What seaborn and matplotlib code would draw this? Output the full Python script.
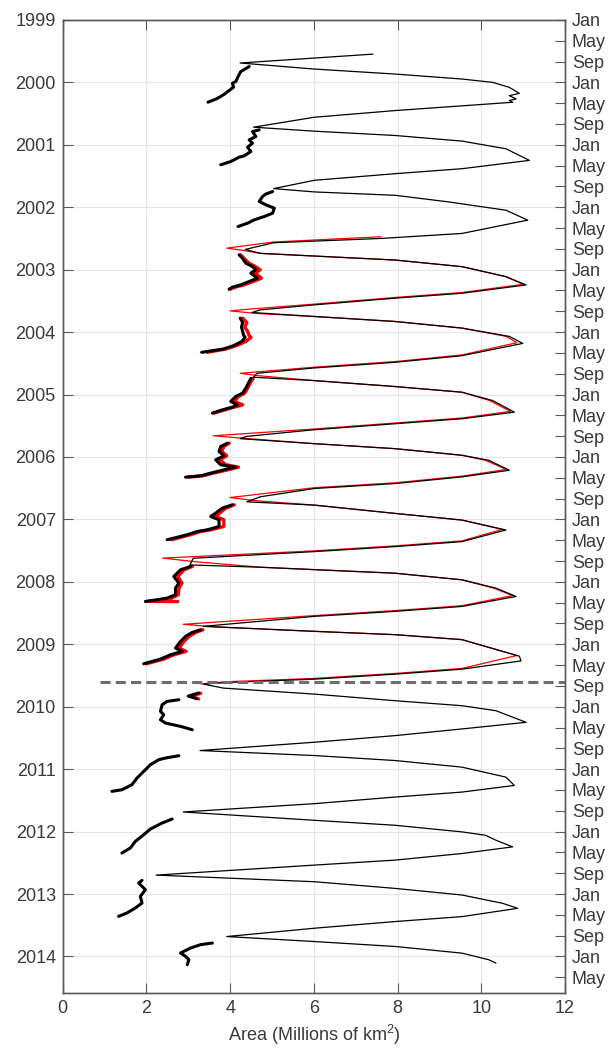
import matplotlib
matplotlib.use("Agg")
import matplotlib.pyplot as plt
import seaborn as sns
import pandas as pd

# ---------------- data ----------------
total_year = [1999.548, 1999.69, 1999.787, 1999.867, 1999.947, 2000.0, 2000.08, 2000.176, 2000.213, 2000.266, 2000.29, 2000.319, 2000.452, 2000.559, 2000.718,
              2000.782, 2000.851, 2000.941, 2001.064, 2001.25, 2001.383, 2001.463, 2001.569, 2001.702,
              2001.755, 2001.809, 2001.915, 2002.048, 2002.207, 2002.42, 2002.5, 2002.569, 2002.676,
              2002.739, 2002.846, 2002.952, 2003.112, 2003.245, 2003.378, 2003.457, 2003.564, 2003.644, 2003.686,
              2003.75, 2003.83, 2003.936, 2004.069, 2004.181, 2004.378, 2004.484, 2004.574, 2004.66, 2004.723,
              2004.777, 2004.872, 2004.963, 2005.096, 2005.282, 2005.388, 2005.468, 2005.564, 2005.67, 2005.707,
              2005.787, 2005.867, 2005.973, 2006.053, 2006.213, 2006.319, 2006.426, 2006.505, 2006.638, 2006.718,
              2006.771, 2006.904, 2007.011, 2007.17, 2007.356, 2007.436, 2007.516, 2007.622, 2007.729,
              2007.766, 2007.862, 2007.968, 2008.101, 2008.234, 2008.394, 2008.473, 2008.553, 2008.713,
              2008.793, 2008.846, 2008.926, 2009.191, 2009.266, 2009.399, 2009.479, 2009.559, 2009.612, 2009.638,
              2009.702, 2009.798, 2009.904, 2009.984, 2010.064, 2010.25, 2010.356, 2010.463, 2010.569, 2010.702,
              2010.782, 2010.862, 2010.968, 2011.128, 2011.261, 2011.367, 2011.447, 2011.553, 2011.686,
              2011.819, 2011.899, 2012.005, 2012.059, 2012.138, 2012.245, 2012.351, 2012.457, 2012.537, 2012.697,
              2012.803, 2012.91, 2013.016, 2013.149, 2013.229, 2013.362, 2013.441, 2013.548, 2013.681,
              2013.761, 2013.84, 2013.947, 2014.053, 2014.106]
total_area = [7.41, 4.24, 6.01, 7.94, 9.54, 10.27, 10.67, 10.91, 10.67, 10.83, 10.67, 10.75, 7.94, 6.01, 4.56,
              6.01, 7.94, 9.54, 10.59, 11.15, 9.54, 7.94, 6.01, 5.04,
              6.01, 7.94, 9.22, 10.59, 11.11, 9.54, 7.61, 5.04, 4.36,
              4.72, 7.94, 9.54, 10.59, 11.07, 9.54, 7.94, 6.01, 4.72, 4.52,
              6.01, 7.94, 9.54, 10.67, 10.99, 9.54, 7.94, 6.01, 4.64, 4.56,
              6.01, 7.94, 9.54, 10.27, 10.79, 9.54, 7.94, 6.01, 4.4, 4.24,
              6.01, 7.94, 9.54, 10.18, 10.67, 9.54, 7.94, 6.01, 4.72, 4.4,
              6.01, 7.94, 9.54, 10.59, 9.54, 7.94, 6.01, 3.12, 3.04,
              4.72, 7.94, 9.54, 10.35, 10.83, 9.54, 7.94, 6.01, 3.36,
              6.01, 7.94, 9.54, 10.91, 10.95, 9.54, 7.94, 6.01, 3.92, 3.36,
              3.84, 6.01, 7.94, 9.54, 10.35, 11.07, 9.54, 7.94, 6.01, 3.28,
              6.01, 7.94, 9.54, 10.59, 10.79, 9.54, 7.94, 6.01, 2.88,
              6.01, 7.94, 9.54, 10.1, 10.35, 10.75, 9.54, 7.94, 6.01, 2.23,
              6.01, 7.94, 9.54, 10.51, 10.87, 9.54, 7.94, 6.01, 3.92,
              6.01, 7.94, 9.54, 10.18, 10.35]

red_total_year = [2002.473, 2002.557, 2002.655, 2002.69, 2002.739, 2002.846, 2002.952, 2003.112, 2003.235,
                  2003.366, 2003.445, 2003.552, 2003.63, 2003.66, 2003.70, 2003.75, 2003.83, 2003.936, 2004.069, 2004.17,
                  2004.366, 2004.472, 2004.562, 2004.66, 2004.70, 2004.777, 2004.872, 2004.963, 2005.096, 2005.27,
                  2005.376, 2005.456, 2005.552, 2005.66, 2005.70, 2005.787, 2005.867, 2005.973, 2006.053, 2006.2,
                  2006.307, 2006.414, 2006.493, 2006.65, 2006.70, 2006.771, 2006.904, 2007.011, 2007.16,
                  2007.344, 2007.424, 2007.504, 2007.62, 2007.68, 2007.766, 2007.862, 2007.968, 2008.101, 2008.22,
                  2008.382, 2008.461, 2008.541, 2008.68, 2008.72, 2008.793, 2008.846, 2008.926, 2009.18,
                  2009.387, 2009.467, 2009.547, 2009.60, 2009.635]
red_total_area = [7.61, 5.04, 3.92, 4.3, 4.72, 7.94, 9.54, 10.59, 11.0,
                  9.54, 7.94, 6.01, 4.5, 4.0, 4.6, 6.01, 7.94, 9.54, 10.6, 10.85,
                  9.54, 7.94, 6.01, 4.24, 4.7, 6.01, 7.94, 9.54, 10.2, 10.7,
                  9.54, 7.94, 6.01, 3.6, 4.3, 6.01, 7.94, 9.54, 10.1, 10.6,
                  9.54, 7.94, 6.01, 4.0, 4.6, 6.01, 7.94, 9.54, 10.5,
                  9.54, 7.94, 6.01, 2.39, 3.2, 4.72, 7.94, 9.54, 10.3, 10.75,
                  9.54, 7.94, 6.01, 2.88, 3.6, 6.01, 7.94, 9.54, 10.85,
                  9.54, 7.94, 6.01, 3.92, 3.3]

# winter multi-year-ice traces (thick), one list per winter
myi_years = [
    [1999.747, 1999.827, 1999.907, 1999.987, 2000.014, 2000.078, 2000.131, 2000.174, 2000.227, 2000.27, 2000.318],
    [2000.761, 2000.788, 2000.868, 2000.921, 2000.974, 2001.039, 2001.108, 2001.177, 2001.199, 2001.268, 2001.321],
    [2001.749, 2001.79, 2001.828, 2001.908, 2001.962, 2002.015, 2002.095, 2002.149, 2002.202, 2002.256, 2002.309],
    [2002.763, 2002.816, 2002.896, 2002.95, 2003.003, 2003.056, 2003.136, 2003.19, 2003.243, 2003.281, 2003.313],
    [2003.777, 2003.846, 2003.92, 2003.99, 2004.05, 2004.085, 2004.149, 2004.218, 2004.271, 2004.324],
    [2004.74, 2004.791, 2004.898, 2004.978, 2005.031, 2005.111, 2005.165, 2005.202, 2005.245, 2005.298],
    [2005.779, 2005.832, 2005.912, 2005.981, 2006.045, 2006.125, 2006.163, 2006.205, 2006.259, 2006.302, 2006.323],
    [2006.766, 2006.819, 2006.899, 2006.953, 2007.006, 2007.113, 2007.166, 2007.193, 2007.246, 2007.326],
    [2007.753, 2007.807, 2007.914, 2008.02, 2008.1, 2008.207, 2008.26, 2008.287, 2008.314],
    [2008.768, 2008.81, 2008.874, 2008.954, 2009.061, 2009.114, 2009.168, 2009.237, 2009.312],
    [2009.78, 2009.83, 2009.87],
    [2009.888, 2009.915, 2009.968, 2010.075, 2010.129, 2010.209, 2010.262, 2010.315, 2010.369],
    [2010.785, 2010.822, 2010.849, 2010.929, 2011.036, 2011.143, 2011.249, 2011.33, 2011.356],
    [2011.799, 2011.863, 2011.959, 2012.05, 2012.157, 2012.263, 2012.344],
    [2012.781, 2012.824, 2012.931, 2013.038, 2013.144, 2013.224, 2013.304, 2013.358],
    [2013.785, 2013.811, 2013.865, 2013.945, 2013.998, 2014.052, 2014.132],
]
myi_areas = [
    [4.455, 4.255, 4.19, 4.135, 4.055, 4.08, 3.975, 3.895, 3.775, 3.655, 3.47],
    [4.695, 4.535, 4.615, 4.455, 4.535, 4.415, 4.495, 4.335, 4.215, 4.015, 3.775],
    [5.015, 4.85, 4.775, 4.695, 4.855, 5.055, 5.015, 4.815, 4.575, 4.415, 4.19],
    [4.215, 4.295, 4.375, 4.535, 4.615, 4.495, 4.655, 4.455, 4.255, 4.055, 3.975],
    [4.24, 4.3, 4.27, 4.3, 4.32, 4.36, 4.28, 4.08, 3.84, 3.32],
    [4.5, 4.455, 4.375, 4.295, 4.135, 4.015, 4.175, 4.055, 3.815, 3.575],
    [3.935, 3.775, 3.735, 3.855, 3.655, 3.775, 4.135, 3.855, 3.535, 3.295, 2.935],
    [4.055, 3.815, 3.655, 3.535, 3.735, 3.735, 3.455, 3.215, 2.975, 2.495],
    [3.055, 2.815, 2.655, 2.775, 2.695, 2.695, 2.495, 2.255, 1.975],
    [3.295, 3.095, 2.935, 2.815, 2.695, 2.855, 2.575, 2.335, 1.935],
    [3.25, 3.0, 3.2],
    [2.775, 2.495, 2.375, 2.335, 2.415, 2.335, 2.455, 2.815, 3.095],
    [2.775, 2.455, 2.295, 2.095, 1.935, 1.775, 1.655, 1.415, 1.175],
    [2.615, 2.375, 2.095, 1.935, 1.735, 1.615, 1.415],
    [1.895, 1.815, 1.975, 1.855, 1.895, 1.735, 1.535, 1.335],
    [3.575, 3.295, 3.055, 2.815, 2.935, 3.015, 2.975],
]

red_myi_years = [
    [2002.763, 2002.816, 2002.896, 2002.95, 2003.003, 2003.056, 2003.136, 2003.19, 2003.243, 2003.281, 2003.313],
    [2003.777, 2003.846, 2003.92, 2003.99, 2004.05, 2004.085, 2004.149, 2004.218, 2004.271, 2004.324],
    [2004.74, 2004.791, 2004.898, 2004.978, 2005.031, 2005.111, 2005.165, 2005.202, 2005.245, 2005.298],
    [2005.779, 2005.832, 2005.912, 2005.981, 2006.045, 2006.125, 2006.163, 2006.205, 2006.259, 2006.302, 2006.323],
    [2006.766, 2006.819, 2006.899, 2006.953, 2007.006, 2007.113, 2007.166, 2007.193, 2007.246, 2007.326],
    [2007.753, 2007.807, 2007.914, 2008.02, 2008.1, 2008.207, 2008.26, 2008.287, 2008.312, 2008.316],
    [2008.768, 2008.81, 2008.874, 2008.954, 2009.061, 2009.114, 2009.168, 2009.237, 2009.312],
    [2009.785, 2009.83, 2009.875],
]
red_myi_areas = [
    [4.25, 4.33, 4.45, 4.6, 4.72, 4.6, 4.75, 4.55, 4.33, 4.12, 4.0],
    [4.3, 4.4, 4.35, 4.42, 4.45, 4.5, 4.38, 4.15, 3.9, 3.45],
    [4.55, 4.5, 4.42, 4.35, 4.2, 4.1, 4.3, 4.1, 3.88, 3.62],
    [3.98, 3.85, 3.8, 3.92, 3.75, 3.9, 4.2, 3.95, 3.6, 3.35, 3.0],
    [4.1, 3.9, 3.75, 3.65, 3.85, 3.85, 3.55, 3.3, 3.05, 2.6],
    [3.1, 2.9, 2.75, 2.85, 2.78, 2.76, 2.6, 2.35, 2.05, 2.75],
    [3.35, 3.18, 3.02, 2.9, 2.78, 2.95, 2.66, 2.42, 2.0],
    [3.3, 3.05, 3.25],
]

switch_year = 2009.605      # instrument change (dashed line)
switch_x_start = 0.9
year_ticks = list(range(1999, 2015))
area_ticks = list(range(0, 13, 2))
month_names = ["Jan", "May", "Sep"]
month_offsets = [0.0, 4 / 12, 8 / 12]
y_limits = (2014.58, 1999)
x_limits = (0, 12)


def segments_frame(years_lists, areas_lists):
    rows = []
    for i, (ys, xs) in enumerate(zip(years_lists, areas_lists)):
        assert len(ys) == len(xs), (i, len(ys), len(xs))
        for y, x in zip(ys, xs):
            rows.append({"seg": i, "year": y, "area": x})
    return pd.DataFrame(rows)


assert len(total_year) == len(total_area)
assert len(red_total_year) == len(red_total_area)
df_total = pd.DataFrame({"year": total_year, "area": total_area, "seg": 0})
df_red_total = pd.DataFrame({"year": red_total_year, "area": red_total_area, "seg": 0})
df_myi = segments_frame(myi_years, myi_areas)
df_red_myi = segments_frame(red_myi_years, red_myi_areas)

# ---------------- style ----------------
sns.set_style("white")
plt.rcParams["font.family"] = ["Liberation Sans", "DejaVu Sans"]
plt.rcParams["mathtext.fontset"] = "custom"
plt.rcParams["mathtext.rm"] = "Liberation Sans"
plt.rcParams["mathtext.it"] = "Liberation Sans:italic"
text_color = "#3a3a3a"
spine_color = "#5a5a5a"
fs = 13

fig = plt.figure(figsize=(6.1, 10.48), dpi=100)
ax = fig.add_axes([0.1028, 0.0528, 0.8234, 0.9282])

common = dict(x="area", y="year", units="seg", estimator=None, sort=False,
              orient="y", legend=False, ax=ax)
sns.lineplot(data=df_red_total, color="#ff0000", lw=0.9, zorder=3, **common)
sns.lineplot(data=df_red_myi, color="#ff0000", lw=2.4, zorder=3, **common)
sns.lineplot(data=df_total, color="black", lw=0.9, zorder=4, **common)
sns.lineplot(data=df_myi, color="black", lw=2.2, zorder=4, **common)

ax.hlines(switch_year, switch_x_start, x_limits[1], colors="#6e6e6e",
          linestyles=(0, (3.3, 1.7)), lw=2.2, zorder=5)

ax.set_xlim(*x_limits)
ax.set_ylim(*y_limits)
ax.set_xticks(area_ticks)
ax.set_yticks(year_ticks)
ax.set_yticklabels([str(y) for y in year_ticks])
ax.grid(True, color="#e6e6e6", lw=0.8)
ax.set_axisbelow(True)
ax.tick_params(axis="both", direction="in", length=7, width=0.8, color=spine_color,
               labelsize=fs, labelcolor=text_color, pad=5)
ax.tick_params(axis="x", bottom=True, top=True)
ax.tick_params(axis="y", left=True, right=False)
ax.set_xlabel("Area (Millions of km$^2$)", fontsize=fs, color=text_color, labelpad=4.5)
ax.set_ylabel("")
for s in ax.spines.values():
    s.set_color(spine_color)
    s.set_linewidth(1.0)

ax2 = ax.twinx()
ax2.set_ylim(*y_limits)
month_ticks = []
month_labels = []
for yr in year_ticks:
    for off, name in zip(month_offsets, month_names):
        v = yr + off
        if v <= y_limits[0]:
            month_ticks.append(v)
            month_labels.append(name)
ax2.set_yticks(month_ticks)
ax2.set_yticklabels(month_labels)
ax2.tick_params(axis="y", direction="in", length=7, width=0.8, color=spine_color,
                labelsize=fs, labelcolor=text_color, pad=5, right=True, left=False)
ax2.grid(False)
for s in ax2.spines.values():
    s.set_color(spine_color)
    s.set_linewidth(1.0)

fig.savefig("out.png", dpi=100)
